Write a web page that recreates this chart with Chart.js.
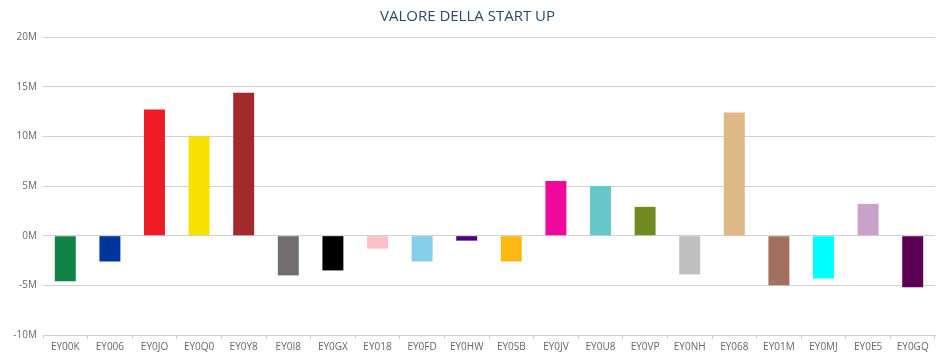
<!DOCTYPE html>
<html>
<head>
<meta charset="utf-8">
<script src="https://cdn.jsdelivr.net/npm/chart.js@4"></script>
<style>
  html, body { margin: 0; padding: 0; background: #fff; }
  #wrap { width: 943px; height: 363px; }
</style>
</head>
<body>
<div id="wrap"><canvas id="bar-chart"></canvas></div>
<script>
const startups = ["EY00K", "EY006", "EY0JO", "EY0Q0", "EY0Y8", "EY0I8", "EY0GX", "EY018", "EY0FD", "EY0HW",
    "EY0SB", "EY0JV", "EY0U8", "EY0VP", "EY0NH", "EY068", "EY01M", "EY0MJ", "EY0E5", "EY0GQ"];
const valori = [-4.6e6, -2.6e6, 12.7e6, 10.0e6, 14.4e6, -4.0e6, -3.5e6, -1.3e6, -2.6e6, -0.5e6,
    -2.6e6, 5.5e6, 5.0e6, 2.9e6, -3.9e6, 12.4e6, -5.0e6, -4.3e6, 3.2e6, -5.2e6];
const colori = ["#0f8346", "#00369b", "#ee1d25", "#f7e100", "#a32a2b", "#736e6d", "#000000", "#fdbfc8", "#87ceeb", "#4b0082",
    "#fdb913", "#f0089c", "#66c8c8", "#6f8c21", "#c0c0c0", "#deb887", "#a3705f", "#00ffff", "#c8a2c8", "#5c0055"];
const yTicks = [-10e6, -5e6, 0, 5e6, 10e6, 15e6, 20e6];

const barChart = document.querySelector("#bar-chart").getContext("2d");
const objBarChart = new Chart(barChart, {
    type: "bar",
    data: {
        labels: startups,
        datasets: [
            {
                label: "Valore",
                data: valori,
                backgroundColor: colori,
                borderWidth: 0,
                barPercentage: 0.47,
                categoryPercentage: 1,
            },
        ],
    },
    options: {
        responsive: true,
        maintainAspectRatio: false,
        animation: false,
        layout: {
            padding: { left: 0, right: 8, top: 0, bottom: 0 },
        },
        plugins: {
            legend: { display: false },
            tooltip: { enabled: false },
            title: {
                display: true,
                text: "VALORE DELLA START UP",
                color: "#274b6d",
                font: { family: "'Open Sans'", size: 15, weight: "normal" },
                padding: { top: 8, bottom: 11 },
            },
        },
        scales: {
            x: {
                grid: {
                    offset: true,
                    drawOnChartArea: false,
                    drawTicks: true,
                    tickLength: 4,
                    color: "#c0d0e0",
                },
                border: { color: "#c0d0e0" },
                ticks: {
                    color: "#666666",
                    font: { family: "'Open Sans'", size: 10 },
                    padding: 2,
                    maxRotation: 0,
                    autoSkip: false,
                },
                afterFit: (axis) => { axis.height = 28; },
            },
            y: {
                min: -10e6,
                max: 20e6,
                afterBuildTicks: (axis) => {
                    axis.ticks = yTicks.map((v) => ({ value: v }));
                },
                grid: {
                    color: "#d0d0d0",
                    drawTicks: false,
                },
                border: { display: false },
                ticks: {
                    color: "#666666",
                    font: { family: "'Open Sans'", size: 10 },
                    padding: 6,
                    callback: (v) => (v / 1e6) + "M",
                },
                afterFit: (axis) => { axis.width = 43; },
            },
        },
    },
});
</script>
</body>
</html>
